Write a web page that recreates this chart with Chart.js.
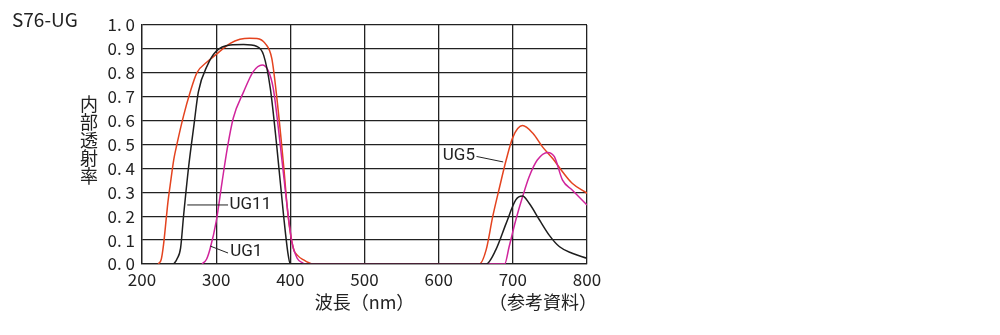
<!DOCTYPE html>
<html>
<head>
<meta charset="utf-8">
<script src="https://cdn.jsdelivr.net/npm/chart.js@4/dist/chart.umd.min.js"></script>
<style>
  html, body { margin: 0; padding: 0; background: #fff; }
  #wrap { width: 1000px; height: 335px; position: relative; }
</style>
</head>
<body>
<div id="wrap"><canvas id="c"></canvas></div>
<script>
// ==============================
// Data
// ==============================
const xTicks = [200, 300, 400, 500, 600, 700, 800];
const yTicks = [0, 0.1, 0.2, 0.3, 0.4, 0.5, 0.6, 0.7, 0.8, 0.9, 1.0];

// UG5 (rood)
const ug5Wl  = [222, 226, 229, 233, 235, 238, 243, 247, 256, 265, 274, 288, 300, 319, 332, 345, 355, 366, 375, 382, 391, 397, 404, 410, 418, 425, 430, 500, 600, 655, 664, 673, 682, 691, 700, 713, 727, 740, 754, 767, 780, 800];
const ug5Val = [0, 0.02, 0.08, 0.2, 0.26, 0.33, 0.44, 0.5, 0.62, 0.72, 0.8, 0.846, 0.877, 0.923, 0.94, 0.945, 0.944, 0.923, 0.86, 0.69, 0.41, 0.2, 0.066, 0.035, 0.017, 0.005, 0, 0, 0, 0, 0.059, 0.2, 0.32, 0.435, 0.53, 0.579, 0.547, 0.49, 0.44, 0.386, 0.338, 0.296];

// UG11 (zwart)
const ug11Wl  = [243, 247, 252, 256, 263, 270, 276, 288, 300, 319, 337, 355, 364, 373, 382, 391, 397, 400, 500, 600, 664, 677, 691, 704, 713, 722, 736, 749, 763, 780, 800];
const ug11Val = [0, 0.02, 0.066, 0.2, 0.41, 0.58, 0.72, 0.83, 0.89, 0.916, 0.918, 0.91, 0.874, 0.735, 0.484, 0.2, 0.04, 0, 0, 0, 0, 0.059, 0.17, 0.268, 0.284, 0.254, 0.184, 0.121, 0.072, 0.045, 0.024];

// UG1 (magenta)
const ug1Wl  = [281, 287, 292, 300, 308, 315, 323, 337, 350, 362, 370, 377, 386, 395, 402, 409, 417, 422, 500, 600, 689, 695, 704, 713, 722, 733, 747, 756, 767, 780, 800];
const ug1Val = [0, 0.02, 0.066, 0.177, 0.344, 0.484, 0.61, 0.72, 0.805, 0.833, 0.81, 0.735, 0.51, 0.26, 0.093, 0.025, 0.004, 0, 0, 0, 0, 0.072, 0.184, 0.28, 0.365, 0.435, 0.467, 0.449, 0.351, 0.31, 0.247];

const toPoints = (wl, val) => wl.map((x, i) => ({ x, y: val[i] }));

const FONT = '"Noto Sans CJK JP", "Noto Sans", sans-serif';
const LABEL_FONT = '"Roboto", "Noto Sans", sans-serif';

// Labels + as-titels tekenen
const textPlugin = {
  id: "texts",
  afterDraw(chart) {
    const ctx = chart.ctx;
    const xs = chart.scales.x;
    const ys = chart.scales.y;
    ctx.save();
    ctx.fillStyle = "#222";

    // Titel linksboven
    ctx.font = "19px " + FONT;
    ctx.textAlign = "left";
    ctx.textBaseline = "middle";
    ctx.fillText("S76-UG", 12, 20);

    // Y-as titel (verticaal gestapeld)
    const yChars = ["内", "部", "透", "射", "率"];
    ctx.textAlign = "center";
    ctx.font = "18px " + FONT;
    yChars.forEach((ch, i) => ctx.fillText(ch, 89, 104 + i * 18));

    // X-as titel
    ctx.fillText("波長（nm）", xs.getPixelForValue(500), 302);
    ctx.textAlign = "right";
    ctx.fillText("（参考資料）", 597, 302);

    // Curve labels met verbindingslijntjes
    ctx.strokeStyle = "#222";
    ctx.lineWidth = 1;
    ctx.font = "17px " + LABEL_FONT;
    ctx.textBaseline = "middle";

    const px = (v) => xs.getPixelForValue(v);
    const py = (v) => ys.getPixelForValue(v);

    // UG11
    ctx.beginPath();
    ctx.moveTo(px(261), py(0.247));
    ctx.lineTo(px(316), py(0.247));
    ctx.stroke();
    ctx.textAlign = "left";
    ctx.fillText("UG11", px(318), py(0.247));

    // UG1
    ctx.beginPath();
    ctx.moveTo(px(292), py(0.075));
    ctx.lineTo(px(316), py(0.046));
    ctx.stroke();
    ctx.fillText("UG1", px(319), py(0.05));

    // UG5
    ctx.beginPath();
    ctx.moveTo(px(651), py(0.45));
    ctx.lineTo(px(687), py(0.427));
    ctx.stroke();
    ctx.textAlign = "right";
    ctx.fillText("UG5", px(649), py(0.452));

    ctx.restore();
  },
};

const lineDs = (label, data, color) => ({
  label,
  data,
  borderColor: color,
  backgroundColor: color,
  borderWidth: 1.5,
  pointRadius: 0,
  fill: false,
  cubicInterpolationMode: "monotone",
});

new Chart(document.getElementById("c"), {
  type: "line",
  data: {
    datasets: [
      lineDs("UG11", toPoints(ug11Wl, ug11Val), "#1e1e1e"),
      lineDs("UG1", toPoints(ug1Wl, ug1Val), "#d0249c"),
      lineDs("UG5", toPoints(ug5Wl, ug5Val), "#e4431f"),
    ],
  },
  options: {
    responsive: true,
    maintainAspectRatio: false,
    animation: false,
    layout: { padding: { left: 0, right: 413, top: 25, bottom: 0 } },
    plugins: {
      legend: { display: false },
      tooltip: { enabled: false },
    },
    scales: {
      x: {
        type: "linear",
        min: 200,
        max: 800,
        afterFit: (s) => { s.height = 71; },
        afterBuildTicks: (s) => { s.ticks = xTicks.map((v) => ({ value: v })); },
        ticks: {
          color: "#222",
          font: { family: FONT, size: 17 },
          padding: 5,
          maxRotation: 0,
          autoSkip: false,
        },
        grid: { color: "#222", lineWidth: 1.3, drawTicks: false },
        border: { color: "#222", width: 1.3 },
      },
      y: {
        min: 0,
        max: 1,
        afterFit: (s) => { s.width = 142; },
        afterBuildTicks: (s) => { s.ticks = yTicks.map((v) => ({ value: v })); },
        ticks: {
          color: "#222",
          font: { family: FONT, size: 17 },
          padding: 7,
          autoSkip: false,
          callback: (v) => v.toFixed(1).replace(".", ". "),
        },
        grid: { color: "#222", lineWidth: 1.3, drawTicks: false },
        border: { color: "#222", width: 1.3 },
      },
    },
  },
  plugins: [textPlugin],
});
</script>
</body>
</html>
